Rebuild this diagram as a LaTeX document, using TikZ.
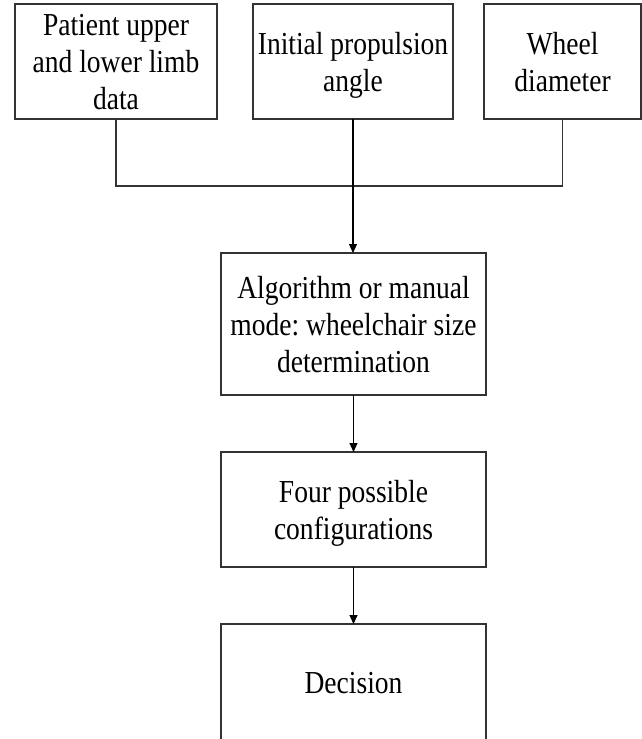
\documentclass[tikz,border=0pt]{standalone}
\usepackage{fontspec}
\setmainfont{Liberation Serif}[FakeStretch=0.86]
\usetikzlibrary{arrows.meta}
\frenchspacing
\begin{document}
\begin{tikzpicture}[x=1pt,y=-1pt,
  box/.style={draw=black!80,line width=1.1pt,inner sep=0pt,outer sep=0pt,align=center,
    text depth=0pt,font=\fontsize{32}{37}\selectfont\frenchspacing},
  link/.style={draw=black!80,line width=1.1pt},
  arr/.style={draw=black,line width=1.1pt,-{Triangle[length=9pt,width=8pt]}}]
\useasboundingbox (0,0) rectangle (642,739);
\clip (0,0) rectangle (642,739);
\node[box,minimum width=202pt,minimum height=115pt] (b1) at (116,61.5) {Patient upper\\and lower limb\\data};
\node[box,minimum width=200pt,minimum height=115pt] (b2) at (353,61.5) {Initial propulsion\\angle};
\node[box,minimum width=157pt,minimum height=115pt] (b3) at (562.5,61.5) {Wheel\\diameter};
\node[box,minimum width=265pt,minimum height=142pt] (b4) at (353.5,324) {Algorithm or manual\\mode: wheelchair size\\determination};
\node[box,minimum width=265pt,minimum height=115pt] (b5) at (353.5,509.5) {Four possible\\configurations};
\node[box,minimum width=265pt,minimum height=118pt] (b6) at (353.5,683) {Decision};
\coordinate (j) at (353,186);
\draw[link] (b1.south) |- (j);
\draw[link] (b3.south) |- (j);
\draw[arr] (b2.south) -- (b2.south |- b4.north);
\draw[arr] (b4.south) -- (b5.north);
\draw[arr] (b5.south) -- (b6.north);
\end{tikzpicture}
\end{document}
